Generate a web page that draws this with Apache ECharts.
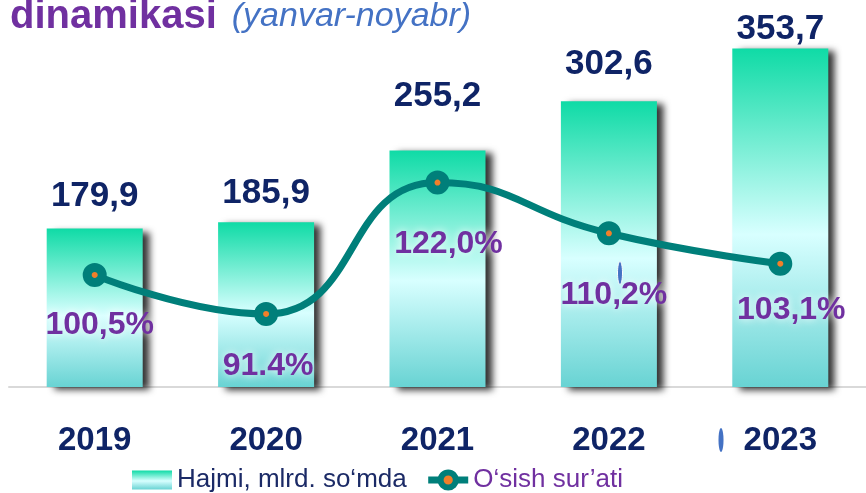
<!DOCTYPE html>
<html>
<head>
<meta charset="utf-8">
<script src="https://cdn.jsdelivr.net/npm/echarts@6/dist/echarts.min.js"></script>
<style>
html,body{margin:0;padding:0;background:#fff;}
#chart{width:866px;height:493px;}
</style>
</head>
<body>
<div id="chart"></div>
<script>
// ---- data ----
const years = ['2019', '2020', '2021', '2022', '2023'];
const volume = [179.9, 185.9, 255.2, 302.6, 353.7];          // Hajmi, mlrd. so'mda
const growth = [100.5, 91.4, 122.0, 110.2, 103.1];            // O'sish sur'ati, %
const growthLabels = ['100,5%', '91.4%', '122,0%', '110,2%', '103,1%'];
const seriesNames = ['Hajmi, mlrd. so\u2018mda', 'O\u2018sish sur\u2019ati'];
const titleMain = 'dinamikasi';
const titleSub = '(yanvar-noyabr)';

// ---- styling ----
const FONT = '"Liberation Sans", Arial, sans-serif';
const NAVY = '#0F2466';
const PURPLE = '#7030A0';
const TEAL = '#007F7A';
const ORANGE = '#F07F2A';

const barNudge = [0, 4, -22, -5, 13];
const pctNudge = [[5, -4], [2, -2], [11, 8], [5, 8], [11, -8]];

const chart = echarts.init(document.getElementById('chart'), null, {renderer: 'canvas'});

const barGradient = new echarts.graphic.LinearGradient(0, 0, 0, 1, [
  {offset: 0, color: '#0FDBA6'},
  {offset: 0.55, color: '#D8FFFF'},
  {offset: 1, color: '#68D3D3'}
]);

const option = {
  backgroundColor: '#ffffff',
  animation: false,
  title: {
    left: 10, top: -3, padding: 0,
    text: '{a|' + titleMain + '}{s|}{b|' + titleSub + '}',
    textStyle: {
      rich: {
        a: {fontFamily: FONT, fontSize: 40, fontWeight: 'bold', color: PURPLE},
        s: {width: 15},
        b: {fontFamily: FONT, fontSize: 34, fontStyle: 'italic', fontWeight: 'normal', color: '#4472C4'}
      }
    }
  },
  legend: {
    left: 132, top: 467, padding: 0,
    itemWidth: 40, itemHeight: 19, itemGap: 18,
    textStyle: {fontFamily: FONT, fontSize: 26},
    data: [
      {name: seriesNames[0], icon: 'rect', textStyle: {color: '#1B2A66'}},
      {
        name: seriesNames[1], textStyle: {color: PURPLE},
        lineStyle: {color: TEAL, width: 7},
        itemStyle: {color: ORANGE, borderColor: TEAL, borderWidth: 6}
      }
    ]
  },
  grid: {left: 9, top: 40, width: 863, height: 347, containLabel: false},
  xAxis: {
    type: 'category',
    data: years,
    axisLine: {lineStyle: {color: '#D9D9D9', width: 2}},
    axisTick: {show: false},
    axisLabel: {margin: 37, fontFamily: FONT, fontSize: 33, fontWeight: 'bold', color: NAVY}
  },
  yAxis: [
    {type: 'value', min: 27, max: 361.8, show: false, splitLine: {show: false}},
    {type: 'value', min: 74.4, max: 155.2, show: false, splitLine: {show: false}}
  ],
  series: [
    {
      name: seriesNames[0],
      type: 'bar',
      barWidth: 96,
      yAxisIndex: 0,
      itemStyle: {
        color: barGradient,
        shadowColor: 'rgba(0,0,0,0.8)',
        shadowBlur: 7,
        shadowOffsetX: 7,
        shadowOffsetY: 3
      },
      label: {
        show: true, position: 'top', distance: 15,
        fontFamily: FONT, fontSize: 35, fontWeight: 'bold', color: NAVY,
        formatter: p => p.value.toFixed(1).replace('.', ',')
      },
      data: volume.map((v, i) => ({value: v, label: {offset: [0, barNudge[i]]}})),
      z: 2
    },
    {
      name: seriesNames[1],
      type: 'line',
      yAxisIndex: 1,
      smooth: 0.5,
      symbol: 'circle',
      symbolSize: 15,
      lineStyle: {color: TEAL, width: 7},
      itemStyle: {color: ORANGE, borderColor: TEAL, borderWidth: 9},
      label: {
        show: true, position: 'bottom', distance: 26,
        fontFamily: FONT, fontSize: 32, fontWeight: 'bold', color: PURPLE,
        textShadowColor: '#ffffff', textShadowBlur: 8,
        formatter: p => growthLabels[p.dataIndex]
      },
      data: growth.map((v, i) => ({value: v, label: {offset: pctNudge[i]}})),
      z: 5
    }
  ],
  graphic: [
    {type: 'ellipse', shape: {cx: 620, cy: 273, rx: 2.5, ry: 11.5}, style: {fill: '#4472C4', stroke: '#fff', lineWidth: 1}, z: 10},
    {type: 'ellipse', shape: {cx: 721, cy: 440, rx: 2.5, ry: 12}, style: {fill: '#4472C4'}, z: 10}
  ]
};

chart.setOption(option);
</script>
</body>
</html>
